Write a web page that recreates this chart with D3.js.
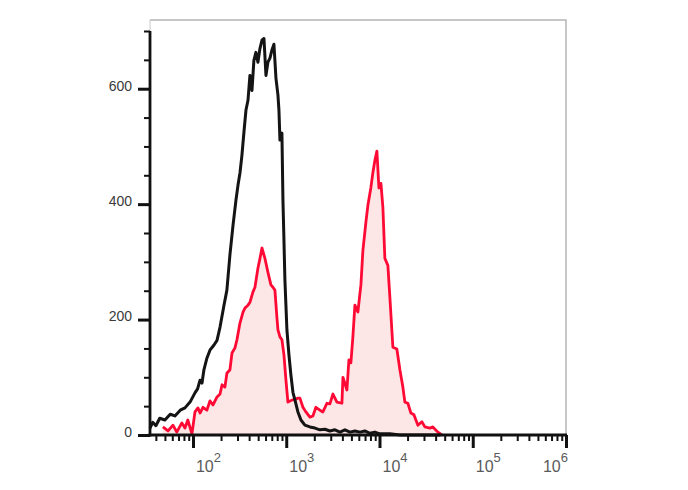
<!DOCTYPE html>
<html>
<head>
<meta charset="utf-8">
<script src="https://cdn.jsdelivr.net/npm/d3@7"></script>
<style>
  html, body { margin: 0; padding: 0; background: #fff; }
  svg { display: block; }
</style>
</head>
<body>
<svg id="chart" width="688" height="490"></svg>
<script>
// ---- data ----
const xDomain = [34.6, 1e6];
const yDomain = [0, 700];
const yTickLabels = [0, 200, 400, 600];
const yMinorTicks = [50, 100, 150, 250, 300, 350, 450, 500, 550, 650, 700];
const xMajorTicks = [1e2, 1e3, 1e4, 1e5, 1e6];
const xTickExponents = ["2", "3", "4", "5", "6"];

// control (black) histogram
const blackX = [34.6, 37, 40, 44, 50, 57, 64, 73, 82, 93, 105, 112, 119, 125, 131, 141, 152, 168, 181, 195, 215, 231, 249, 269, 289, 304, 319, 335, 352, 370, 389, 408, 429, 450, 473, 497, 523, 549, 577, 606, 636, 669, 702, 738, 776, 815, 835, 856, 899, 922, 945, 968, 1017, 1069, 1122, 1180, 1239, 1334, 1438, 1585, 1794, 2032, 2297, 2600, 2940, 3325, 3765, 4260, 4820, 5450, 6170, 6970, 7890, 8920, 10090, 12900, 16550, 45000];
const blackY = [12, 22, 16, 29, 26, 36, 33, 43, 47, 57, 73, 80, 95, 90, 113, 133, 147, 156, 164, 187, 225, 251, 312, 364, 407, 433, 454, 485, 525, 563, 580, 623, 597, 649, 663, 646, 670, 684, 687, 623, 646, 653, 667, 677, 618, 589, 563, 511, 523, 407, 338, 268, 182, 139, 104, 74, 61, 40, 26, 17, 14, 12, 9, 10, 7, 9, 5, 9, 5, 7, 5, 7, 3, 5, 2, 2, 0, 0];

// stained (red) histogram
const redX = [47.6, 54, 61, 67, 76, 82, 88, 97.5, 105, 113, 119, 128, 141, 152, 164, 181, 195, 205, 220, 231, 249, 262, 282, 296, 319, 344, 361, 389, 408, 440, 462, 497, 523, 549, 591, 636, 685, 720, 756, 795, 815, 856, 899, 945, 993, 1042, 1096, 1180, 1270, 1334, 1402, 1510, 1626, 1794, 1932, 2080, 2297, 2474, 2731, 2940, 3170, 3495, 3955, 4055, 4475, 4700, 4935, 5185, 5450, 5865, 6320, 6640, 7150, 7510, 8090, 8500, 8930, 9380, 9860, 10360, 10870, 11420, 12300, 12920, 13920, 15350, 16550, 17810, 18720, 20150, 21710, 23390, 25820, 28460, 30650, 34650, 37340, 42250, 46670];
const redY = [14, 7, 17, 5, 21, 12, 26, 2, 40, 47, 38, 48, 43, 59, 52, 66, 71, 87, 83, 107, 113, 142, 151, 165, 194, 213, 220, 225, 230, 248, 256, 289, 306, 324, 306, 282, 260, 256, 251, 203, 182, 170, 165, 139, 95, 57, 59, 61, 62, 64, 64, 48, 40, 31, 33, 48, 43, 40, 55, 54, 71, 57, 55, 100, 78, 130, 125, 170, 225, 213, 260, 320, 369, 398, 429, 455, 476, 492, 428, 436, 395, 306, 294, 239, 152, 149, 113, 83, 57, 55, 38, 35, 17, 23, 14, 12, 14, 5, 0];

// ---- layout ----
const svg = d3.select("#chart");
const mLeft = 150, mRight = 566, mTop = 20, yTop = 31, mBottom = 435;

const x = d3.scaleLog().domain(xDomain).range([mLeft, mRight]);
const y = d3.scaleLinear().domain(yDomain).range([mBottom, yTop]);

// frame (light grey top/right)
svg.append("path")
  .attr("d", `M${mLeft},${mTop}H${mRight}V${mBottom}`)
  .attr("fill", "none").attr("stroke", "#b5b5b5").attr("stroke-width", 1.5);
svg.append("line")
  .attr("x1", mLeft).attr("x2", mLeft).attr("y1", mTop).attr("y2", yTop)
  .attr("stroke", "#c8c8c8").attr("stroke-width", 1);

const redPts = redX.map((v, i) => [v, redY[i]]);
const blackPts = blackX.map((v, i) => [v, blackY[i]]);

// red fill
svg.append("path")
  .datum(redPts)
  .attr("d", d3.area().x(d => x(d[0])).y0(y(0)).y1(d => y(d[1])))
  .attr("fill", "#fde6e6");

// red line
svg.append("path")
  .datum(redPts)
  .attr("d", d3.line().x(d => x(d[0])).y(d => y(d[1])))
  .attr("fill", "none").attr("stroke", "#ff0a35").attr("stroke-width", 2.8)
  .attr("stroke-linejoin", "round");

// black line
svg.append("path")
  .datum(blackPts)
  .attr("d", d3.line().x(d => x(d[0])).y(d => y(d[1])))
  .attr("fill", "none").attr("stroke", "#141414").attr("stroke-width", 3)
  .attr("stroke-linejoin", "round");

// ---- y axis ----
const yAxisMinor = d3.axisLeft(y).tickValues(yMinorTicks).tickSize(6).tickFormat("");
const yAxisMajor = d3.axisLeft(y).tickValues(yTickLabels).tickSize(12).tickPadding(6).tickFormat(d3.format("d"));
const gyMinor = svg.append("g").attr("transform", `translate(${mLeft},0)`).call(yAxisMinor);
gyMinor.select(".domain").remove();
gyMinor.selectAll("line").attr("stroke", "#111").attr("stroke-width", 2);
const gy = svg.append("g").attr("transform", `translate(${mLeft},0)`).call(yAxisMajor);
gy.select(".domain").remove();
gy.selectAll("line").attr("stroke", "#111").attr("stroke-width", 3);
gy.selectAll("text")
  .attr("font-family", "Liberation Sans, Arial, sans-serif")
  .attr("font-size", 14).attr("fill", "#3a3a3a")
  .attr("dy", "0.1em");
svg.append("line")
  .attr("x1", mLeft).attr("x2", mLeft).attr("y1", yTop).attr("y2", mBottom + 1.5)
  .attr("stroke", "#111").attr("stroke-width", 2.8);

// ---- x axis ----
const minorTicks = x.ticks().filter(v => !xMajorTicks.includes(v));
const gxMinor = svg.append("g").attr("transform", `translate(0,${mBottom})`)
  .call(d3.axisBottom(x).tickValues(minorTicks).tickSize(6).tickFormat(""));
gxMinor.select(".domain").remove();
gxMinor.selectAll("line").attr("stroke", "#111").attr("stroke-width", 2);
const gxMajor = svg.append("g").attr("transform", `translate(0,${mBottom})`)
  .call(d3.axisBottom(x).tickValues(xMajorTicks).tickSize(13).tickFormat(""));
gxMajor.select(".domain").remove();
gxMajor.selectAll("line").attr("stroke", "#111").attr("stroke-width", 3);
svg.append("line")
  .attr("x1", mLeft - 1.4).attr("x2", mRight + 1).attr("y1", mBottom).attr("y2", mBottom)
  .attr("stroke", "#111").attr("stroke-width", 2.8);

// tick labels 10^n
xMajorTicks.forEach((v, i) => {
  const isLast = i === xMajorTicks.length - 1;
  const t = svg.append("text")
    .attr("x", isLast ? mRight + 2 : x(v) + 3)
    .attr("y", 472)
    .attr("text-anchor", isLast ? "end" : "start")
    .attr("font-family", "Liberation Sans, Arial, sans-serif")
    .attr("fill", "#5a5a5a");
  t.append("tspan").attr("font-size", 16).text("10");
  t.append("tspan").attr("font-size", 13).attr("dy", -10).text(xTickExponents[i]);
});
</script>
</body>
</html>
